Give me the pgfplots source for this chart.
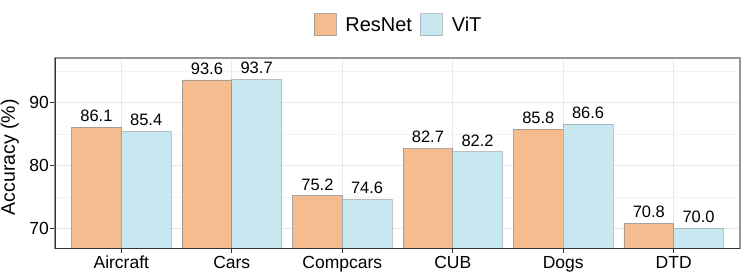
\documentclass[border=0pt]{standalone}
\usepackage{pgfplots}
\pgfplotsset{compat=1.18}
\usepackage{fontspec}
\setmainfont{Liberation Sans}
\definecolor{resnet}{RGB}{244,188,143}
\definecolor{vit}{RGB}{199,232,240}
\definecolor{gridmaj}{RGB}{232,232,232}
\definecolor{gridmin}{RGB}{243,243,243}
\definecolor{frameg}{RGB}{150,150,150}
\definecolor{dark}{RGB}{51,51,51}

\begin{document}
\begin{tikzpicture}
\useasboundingbox (0,0) rectangle (747pt,280pt);
\begin{axis}[
  name=ax,
  at={(55pt,31.5pt)}, anchor=south west,
  scale only axis, width=685pt, height=190.5pt,
  xmin=0.4, xmax=6.6, ymin=66.8, ymax=97.1,
  ybar, bar width=0.45,
  xtick={1,2,3,4,5,6},
  xticklabels={Aircraft,Cars,Compcars,CUB,Dogs,DTD},
  ytick={70,80,90}, minor ytick={75,85,95},
  grid=both,
  major grid style={draw=gridmaj, line width=1.1pt},
  minor grid style={draw=gridmin, line width=0.6pt},
  axis line style={draw=frameg, line width=1.1pt},
  tick align=outside, tick pos=left,
  major tick length=4.5pt, minor tick length=0pt,
  tick style={draw=dark, line width=0.9pt},
  /pgf/number format/assume math mode=true,
  ticklabel style={font=\fontsize{17.5}{20}\selectfont, text=black},
  yticklabel style={inner sep=1.5pt},
  xticklabel style={inner sep=0pt, text height=12.5pt, yshift=-2.8pt},
  ylabel={Accuracy (\%)},
  ylabel style={font=\fontsize{19.5}{22}\selectfont, anchor=base, at={(axis description cs:0,0.5)}, yshift=40pt, xshift=-4pt},
  nodes near coords={\pgfmathprintnumber[fixed,fixed zerofill,precision=1,assume math mode=true]{\pgfplotspointmeta}},
  nodes near coords style={font=\fontsize{16.5}{18}\selectfont, inner sep=0pt, anchor=south, yshift=5pt, text=black},
  legend columns=2,
  legend image code/.code={\draw[#1] (0pt,-4.2pt) rectangle (22pt,17.8pt);},
  legend style={at={(0.5,1)}, anchor=south, yshift=22pt, draw=none, fill=none,
    inner sep=0pt, outer sep=0pt, font=\fontsize{20}{24}\selectfont,
    nodes={inner sep=0pt, anchor=base west},
    /tikz/every odd column/.append style={column sep=9pt},
    /tikz/every even column/.append style={column sep=8pt}},
]
\addplot[fill=resnet, draw=black!45, draw opacity=0.7, line width=0.8pt, bar shift=-0.225]
  coordinates {(1,86.1) (2,93.6) (3,75.2) (4,82.7) (5,85.8) (6,70.8)};
\addlegendentry{ResNet}
\addplot[fill=vit, draw=black!45, draw opacity=0.5, line width=0.8pt, bar shift=0.225]
  coordinates {(1,85.4) (2,93.7) (3,74.6) (4,82.2) (5,86.6) (6,70.0)};
\addlegendentry{ViT}
\end{axis}
\draw[dark, line width=1pt] (ax.north west) -- (ax.south west) -- (ax.south east);
\end{tikzpicture}
\end{document}
